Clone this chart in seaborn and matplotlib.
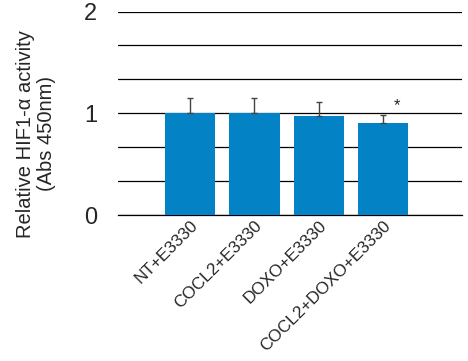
import numpy as np
import pandas as pd
import matplotlib
matplotlib.use("Agg")
import matplotlib.pyplot as plt
import seaborn as sns

# Data
groups = ["NT+E3330", "COCL2+E3330", "DOXO+E3330", "COCL2+DOXO+E3330"]
means = [1.00, 1.00, 0.97, 0.91]
errors = [0.15, 0.15, 0.14, 0.07]
significant = [False, False, False, True]

df = pd.DataFrame({"Group": groups, "Mean": means})

sns.set_style("white")
plt.rcParams["font.family"] = ["Liberation Sans", "DejaVu Sans"]

fig = plt.figure(figsize=(4.68, 3.61), dpi=100)
ax = fig.add_axes([0.252, 0.404, 0.735, 0.564])

# gridlines every 1/3 behind bars
ax.set_axisbelow(True)
sns.barplot(data=df, x="Group", y="Mean", color="#0482C6", width=0.78,
            saturation=1, errorbar=None, linewidth=0, ax=ax, zorder=3)

# upper-only error bars
xs = np.arange(len(groups))
ax.errorbar(xs, means, yerr=[np.zeros(len(errors)), errors], fmt="none",
            ecolor="#444444", elinewidth=1, capsize=2.2, capthick=1, zorder=4)

for x, m, e, s in zip(xs, means, errors, significant):
    if s:
        ax.text(x + 0.21, m + e + 0.1, "*", ha="center", va="center",
                fontsize=12, color="#222222")

ax.set_ylim(0, 2)
ax.set_xlim(-1.12, 4.22)
ax.set_yticks([0, 1, 2])
ax.set_yticks([1 / 3, 2 / 3, 4 / 3, 5 / 3], minor=True)
ax.grid(True, axis="y", which="both", color="black", linewidth=0.9)
ax.grid(False, axis="x")
for sp in ax.spines.values():
    sp.set_visible(False)
ax.spines["bottom"].set_visible(True)
ax.spines["bottom"].set_color("black")
ax.spines["bottom"].set_linewidth(0.9)

ax.tick_params(axis="y", which="both", length=0, labelsize=17, pad=15)
ax.tick_params(axis="x", length=0, labelsize=12.3, pad=2)
plt.setp(ax.get_xticklabels(), rotation=45, ha="right", rotation_mode="anchor")

ax.set_xlabel("")
ax.set_ylabel("Relative HIF1-α activity\n(Abs 450nm)", fontsize=14.5,
              linespacing=1.15)
ax.yaxis.set_label_coords(-0.18, 0.40)

fig.savefig("out.png", dpi=100)
